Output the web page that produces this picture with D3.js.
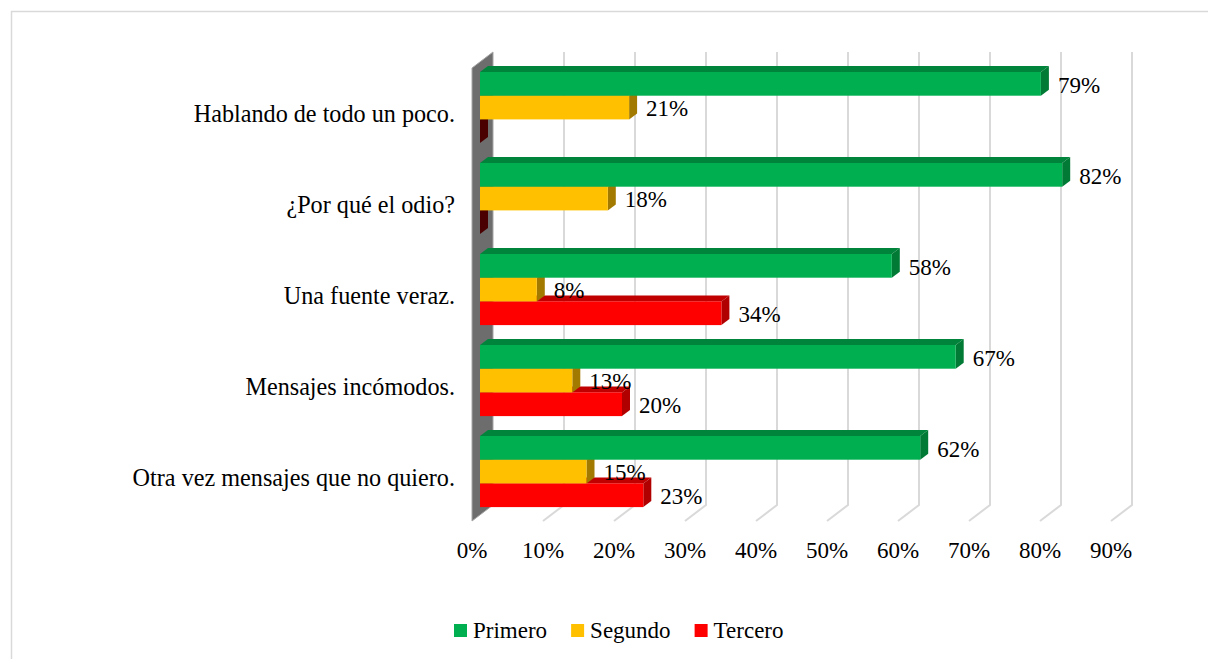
<!DOCTYPE html>
<html>
<head>
<meta charset="utf-8">
<script src="https://cdn.jsdelivr.net/npm/d3@7"></script>
<style>
  body { margin: 0; background: #fff; }
</style>
</head>
<body>
<div id="chart"></div>
<script>
// data
var categories = ["Hablando de todo un poco.", "¿Por qué el odio?", "Una fuente veraz.", "Mensajes incómodos.", "Otra vez mensajes que no quiero."];
var seriesNames = ["Primero", "Segundo", "Tercero"];
var primero = [0.79, 0.82, 0.58, 0.67, 0.62];
var segundo = [0.21, 0.18, 0.08, 0.13, 0.15];
var tercero = [0.00, 0.00, 0.34, 0.20, 0.23];
var ticks = [0, 0.1, 0.2, 0.3, 0.4, 0.5, 0.6, 0.7, 0.8, 0.9];

var colors = {
    front: ["#00b050", "#ffc000", "#ff0000"],
    top:   ["#00843c", "#b08600", "#c00000"],
    side:  ["#007a35", "#a37a00", "#b00000"]
};

var W = 1208, H = 659;
var FONT = "Liberation Serif";
var svg = d3.select("#chart").append("svg")
    .attr("width", W).attr("height", H);

// chart border (right/bottom run off the page)
svg.append("rect")
    .attr("x", 11.5).attr("y", 11.5)
    .attr("width", W + 20).attr("height", H + 20)
    .attr("fill", "none").attr("stroke", "#d9d9d9").attr("stroke-width", 1.5);

// 3d offsets
var wallDx = 21, wallDy = 16;   // back plane vs floor front
var barDx = 8, barDy = 6;       // bar depth
var barShift = 13;              // bar front face vs back wall

var x = d3.scaleLinear().domain([0, 0.9]).range([480, 1119]);
var y = d3.scaleBand().domain(categories).range([66, 521]);
var barH = 23.7, barOff = 6;

var backTop = 52, backBottom = 505;

// left wall
var wx = x(0) + barShift;
svg.append("polygon")
    .attr("points", [[wx - wallDx, backTop + wallDy], [wx, backTop], [wx, backBottom], [wx - wallDx, backBottom + wallDy]].join(" "))
    .attr("fill", "#6d6d6d").attr("stroke", "#a6a6a6").attr("stroke-width", 1);

// gridlines on back wall + floor
var grid = svg.append("g");
ticks.slice(1).forEach(function(t){
    var gx = x(t) + barShift;
    grid.append("polyline")
        .attr("points", [[gx, backTop], [gx, backBottom], [gx - wallDx, backBottom + wallDy]].join(" "))
        .attr("fill", "none").attr("stroke", "#d9d9d9").attr("stroke-width", 2);
});

// axis labels
svg.append("g").selectAll("text")
    .data(ticks).enter().append("text")
    .attr("x", function(d){ return x(d) + barShift - wallDx; })
    .attr("y", 558)
    .attr("text-anchor", "middle")
    .style("font-family", FONT)
    .style("font-size", "23px")
    .text(function(d){ return d3.format(".0%")(d); });

// category labels
svg.append("g").selectAll("text")
    .data(categories).enter().append("text")
    .attr("x", 455)
    .attr("y", function(d){ return y(d) + y.bandwidth() / 2; })
    .attr("dy", "0.45em")
    .attr("text-anchor", "end")
    .style("font-family", FONT)
    .style("font-size", "24.2px")
    .text(function(d){ return d; });

// bars
var series = [primero, segundo, tercero];
var bars = svg.append("g");
categories.forEach(function(c, i){
    // draw bottom bar first so upper fronts hide lower tops
    for (var k = 2; k >= 0; k--) {
        var v = series[k][i];
        var x0 = x(0), x1 = x(v);
        var yt = y(c) + barOff + k * barH;
        var yb = yt + barH;
        var g = bars.append("g");
        g.append("polygon")
            .attr("points", [[x0, yt], [x0 + barDx, yt - barDy], [x1 + barDx, yt - barDy], [x1, yt]].join(" "))
            .attr("fill", colors.top[k]);
        g.append("polygon")
            .attr("points", [[x1, yt], [x1 + barDx, yt - barDy], [x1 + barDx, yb - barDy], [x1, yb]].join(" "))
            .attr("fill", v === 0 ? "#4a0000" : colors.side[k]);
        if (v > 0) {
            g.append("rect")
                .attr("x", x0).attr("y", yt)
                .attr("width", x1 - x0).attr("height", barH)
                .attr("fill", colors.front[k]);
        }
    }
});

// value labels on top
var labels = svg.append("g");
categories.forEach(function(c, i){
    for (var k = 0; k < 3; k++) {
        var v = series[k][i];
        if (v === 0) continue;
        labels.append("text")
            .attr("x", x(v) + 17)
            .attr("y", y(c) + barOff + k * barH + barH / 2)
            .attr("dy", "0.38em")
            .style("font-family", FONT)
            .style("font-size", "23px")
            .text(d3.format(".0%")(v));
    }
});

// legend
var legend = svg.append("g");
var lx = 454;
seriesNames.forEach(function(name, k){
    legend.append("rect")
        .attr("x", lx).attr("y", 624)
        .attr("width", 13).attr("height", 13)
        .attr("fill", colors.front[k]);
    var t = legend.append("text")
        .attr("x", lx + 19).attr("y", 638)
        .style("font-family", FONT)
        .style("font-size", "23px")
        .text(name);
    lx += 19 + t.node().getComputedTextLength() + 24;
});
</script>
</body>
</html>
